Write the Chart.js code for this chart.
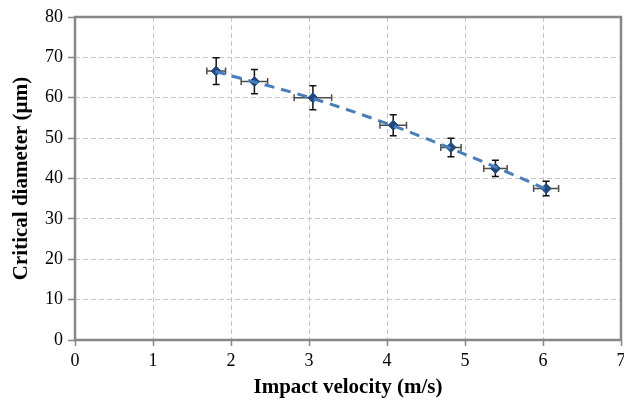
<!DOCTYPE html>
<html>
<head>
<meta charset="utf-8">
<script src="https://cdn.jsdelivr.net/npm/chart.js@4"></script>
<style>
  html, body { margin: 0; padding: 0; background: #fff; }
  #wrap { width: 624px; height: 401px; }
</style>
</head>
<body>
<div id="wrap"><canvas id="diameterPlot" width="624" height="401"></canvas></div>
<script>
const velocity = [1.81, 2.30, 3.05, 4.08, 4.82, 5.39, 6.04];
const diameter = [66.6, 64.0, 60.0, 53.2, 47.7, 42.5, 37.5];
const velocityErr = [0.12, 0.17, 0.24, 0.17, 0.13, 0.15, 0.16];
const diameterErr = [3.3, 3.0, 3.0, 2.6, 2.3, 2.0, 1.8];

// dashed trend line
const trendVelocity = [1.8, 3, 4, 5, 6.05];
const trendDiameter = [66.5, 60.1, 53.6, 46.0, 37.3];

const xTicks = [0, 1, 2, 3, 4, 5, 6, 7];
const yTicks = [0, 10, 20, 30, 40, 50, 60, 70, 80];

const serif = "'Liberation Serif', 'Times New Roman', serif";

const pointData = velocity.map((v, i) => ({ x: v, y: diameter[i] }));
const trendData = trendVelocity.map((v, i) => ({ x: v, y: trendDiameter[i] }));

// error bars, drawn just before the markers
const errorBars = {
    id: 'errorBars',
    beforeDatasetDraw(chart, args) {
        if (args.index !== 1) return;
        const ctx = chart.ctx;
        const xs = chart.scales.x, ys = chart.scales.y;
        ctx.save();
        ctx.lineWidth = 1.5;
        velocity.forEach((v, i) => {
            const px = xs.getPixelForValue(v);
            const py = ys.getPixelForValue(diameter[i]);
            const x0 = xs.getPixelForValue(v - velocityErr[i]);
            const x1 = xs.getPixelForValue(v + velocityErr[i]);
            const y0 = ys.getPixelForValue(diameter[i] - diameterErr[i]);
            const y1 = ys.getPixelForValue(diameter[i] + diameterErr[i]);
            const cap = 3.5;
            // horizontal
            ctx.strokeStyle = '#4d4d4d';
            ctx.beginPath();
            ctx.moveTo(x0, py); ctx.lineTo(x1, py);
            ctx.moveTo(x0, py - cap); ctx.lineTo(x0, py + cap);
            ctx.moveTo(x1, py - cap); ctx.lineTo(x1, py + cap);
            ctx.stroke();
            // vertical
            ctx.strokeStyle = '#111';
            ctx.beginPath();
            ctx.moveTo(px, y0); ctx.lineTo(px, y1);
            ctx.moveTo(px - cap, y0); ctx.lineTo(px + cap, y0);
            ctx.moveTo(px - cap, y1); ctx.lineTo(px + cap, y1);
            ctx.stroke();
        });
        ctx.restore();
    }
};

// gray frame round the plot area
const frame = {
    id: 'frame',
    beforeDatasetsDraw(chart) {
        const { ctx, chartArea: a } = chart;
        ctx.save();
        ctx.strokeStyle = '#878787';
        ctx.lineWidth = 2.5;
        ctx.strokeRect(a.left, a.top, a.right - a.left, a.bottom - a.top);
        ctx.restore();
    }
};

new Chart(document.getElementById('diameterPlot').getContext('2d'), {
    type: 'scatter',
    data: {
        datasets: [{
            type: 'line',
            label: 'Trend',
            data: trendData,
            borderColor: '#4a7ebb',
            borderWidth: 3,
            borderDash: [10, 7],
            pointRadius: 0,
            cubicInterpolationMode: 'monotone',
            fill: false
        }, {
            label: 'Critical diameter',
            data: pointData,
            pointStyle: 'rectRot',
            pointRadius: 5,
            pointBackgroundColor: '#1f497d',
            pointBorderColor: '#1f497d',
            pointBorderWidth: 1
        }]
    },
    options: {
        responsive: false,
        animation: false,
        layout: { autoPadding: false, padding: { top: 17, right: 3, left: 0, bottom: 0 } },
        plugins: {
            legend: { display: false },
            tooltip: { enabled: false }
        },
        scales: {
            x: {
                type: 'linear',
                min: 0,
                max: 7,
                afterBuildTicks(scale) { scale.ticks = xTicks.map(v => ({ value: v })); },
                afterFit(scale) { scale.height = 61; scale.paddingRight = 0; scale.paddingLeft = 0; },
                grid: { color: '#c6c6c6', lineWidth: 1, tickColor: '#878787', tickLength: 6, tickWidth: 1.5 },
                border: { display: false, dash: [5, 3] },
                ticks: { color: '#000', font: { family: serif, size: 18 }, padding: 4, maxRotation: 0 },
                title: {
                    display: true,
                    text: 'Impact velocity (m/s)',
                    color: '#000',
                    font: { family: serif, size: 21, weight: 'bold' },
                    padding: { top: 0, bottom: 1 }
                }
            },
            y: {
                min: 0,
                max: 80,
                afterBuildTicks(scale) { scale.ticks = yTicks.map(v => ({ value: v })); },
                afterFit(scale) { scale.width = 75; },
                grid: { color: '#c6c6c6', lineWidth: 1, tickColor: '#878787', tickLength: 7, tickWidth: 1.5 },
                border: { display: false, dash: [5, 3] },
                ticks: { color: '#000', font: { family: serif, size: 18 }, padding: 5 },
                title: {
                    display: true,
                    text: 'Critical diameter (µm)',
                    color: '#000',
                    font: { family: serif, size: 21, weight: 'bold' },
                    padding: { top: 9, bottom: 0 }
                }
            }
        }
    },
    plugins: [errorBars, frame]
});
</script>
</body>
</html>
